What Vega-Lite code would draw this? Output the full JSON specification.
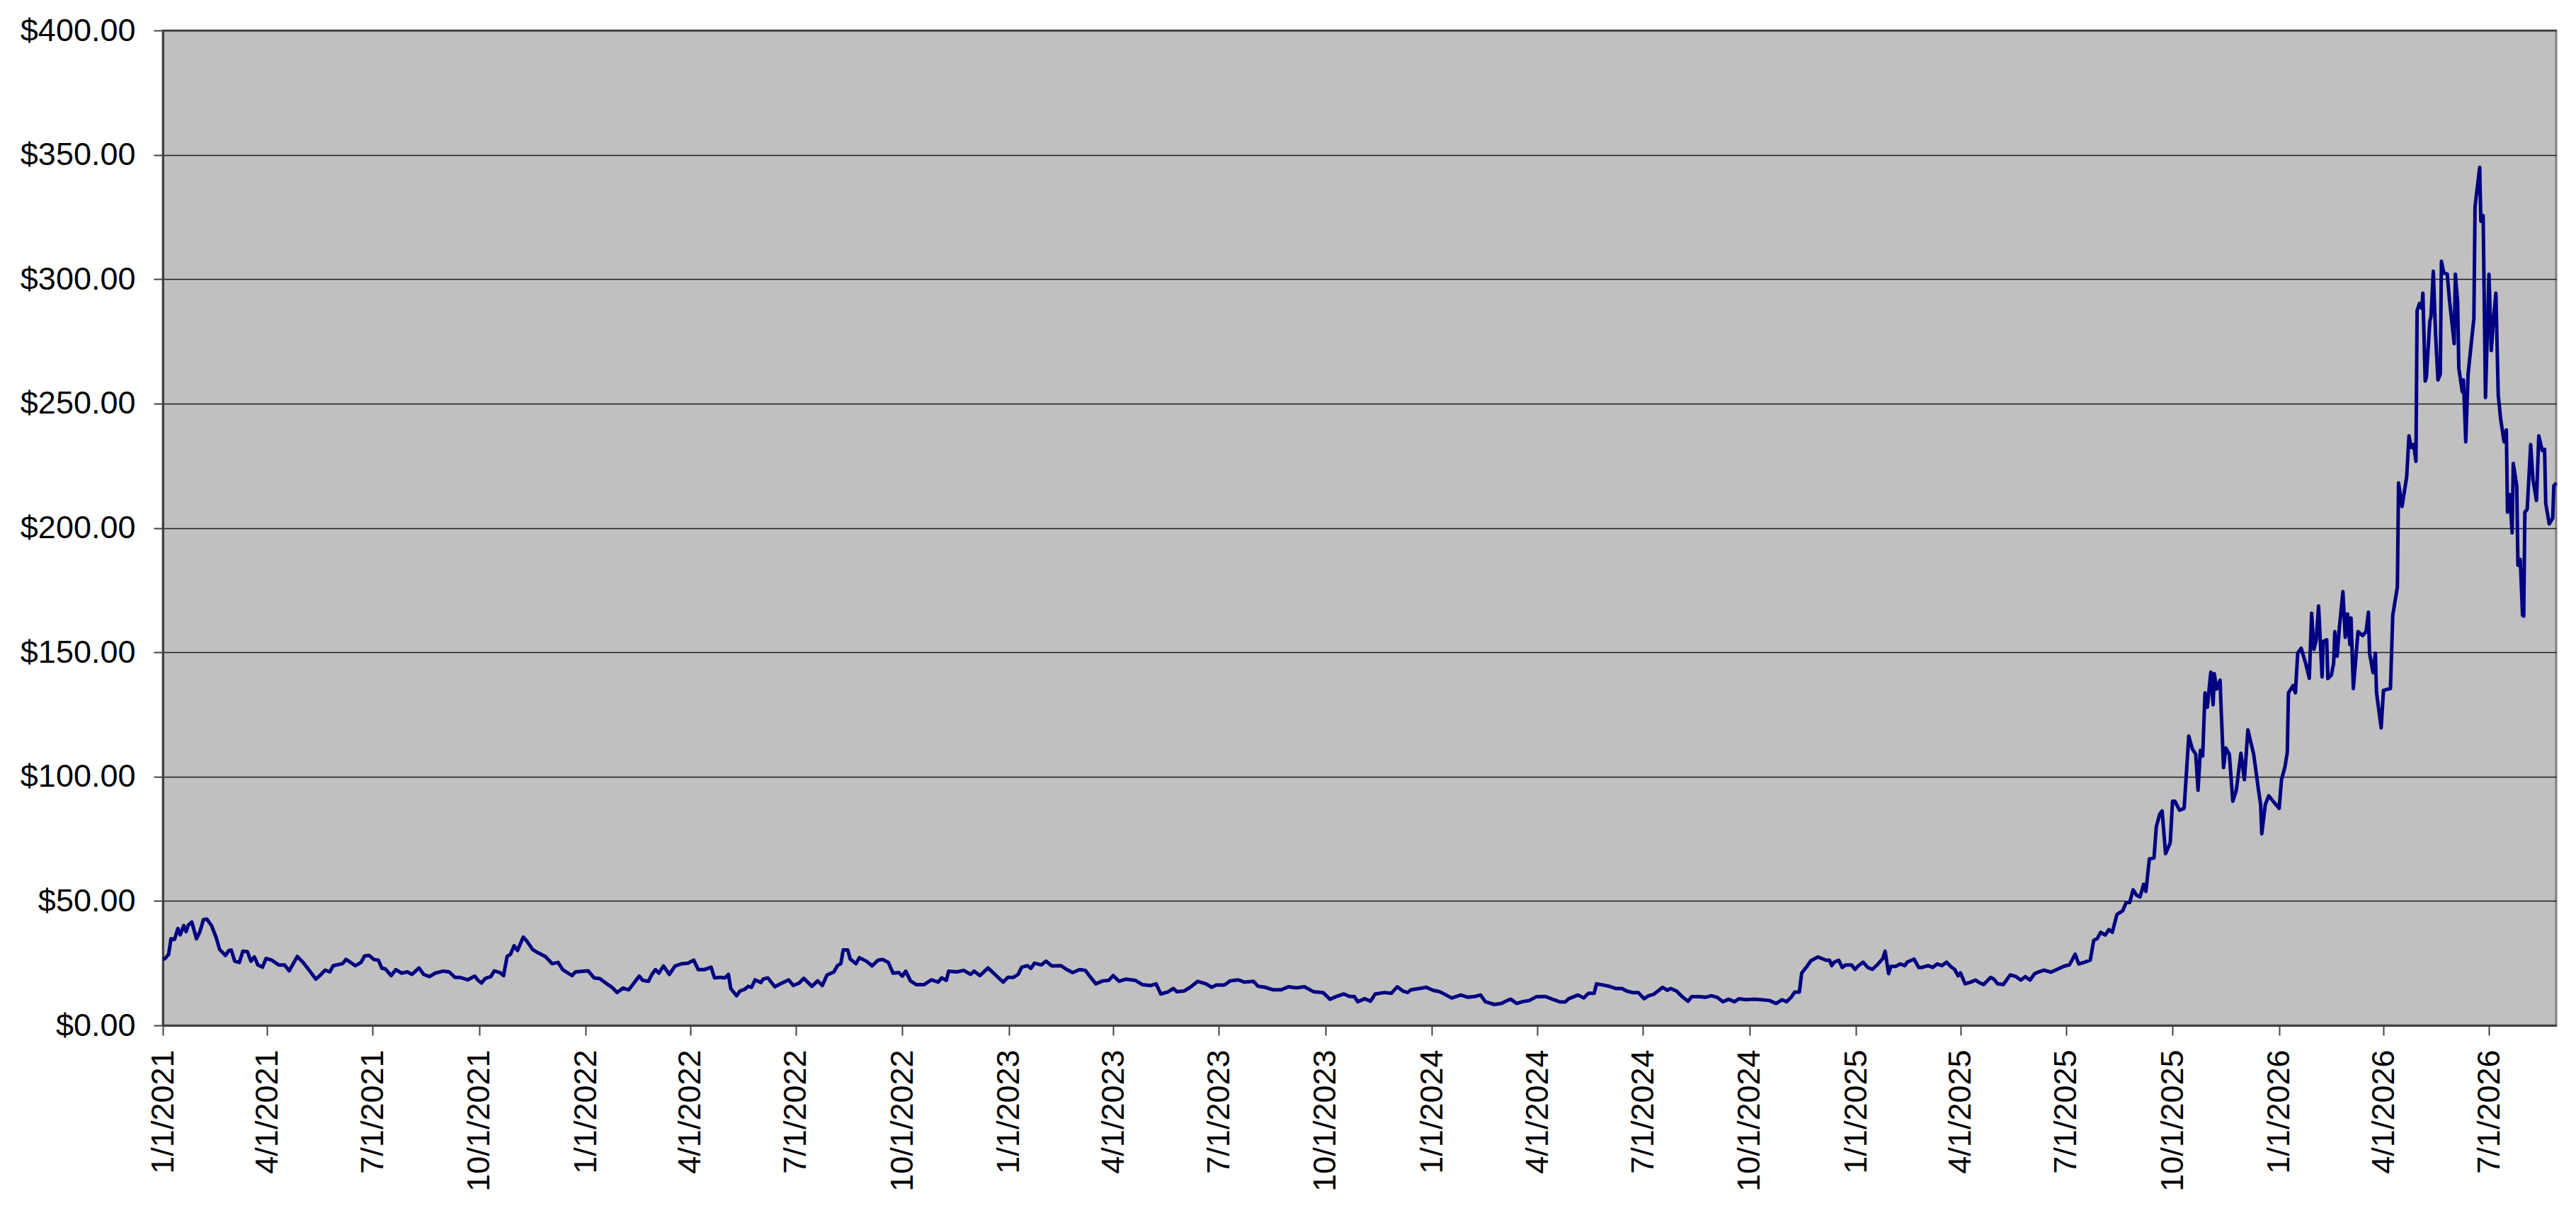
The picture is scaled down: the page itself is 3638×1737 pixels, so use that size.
{
"$schema":"https://vega.github.io/schema/vega-lite/v6.json",
"autosize":"none",
"width":3380,"height":1405,
"padding":{"left":230,"top":43,"right":28,"bottom":289},
"background":"white",
"config":{"font":"Liberation Sans","view":{"fill":"#C0C0C0","stroke":"#808080","strokeWidth":3}},
"data":{"values":[
{"date":"2021-01-01","price":26.5},{"date":"2021-01-03","price":26.9},{"date":"2021-01-06","price":28.6},{"date":"2021-01-08","price":34.8},{"date":"2021-01-11","price":34.5},{"date":"2021-01-14","price":38.9},{"date":"2021-01-16","price":36.4},{"date":"2021-01-19","price":40.1},{"date":"2021-01-21","price":37.7},{"date":"2021-01-23","price":40.3},{"date":"2021-01-26","price":41.5},{"date":"2021-01-30","price":34.8},{"date":"2021-02-02","price":37.7},{"date":"2021-02-05","price":42.5},{"date":"2021-02-08","price":42.7},{"date":"2021-02-12","price":40.1},{"date":"2021-02-16","price":35.3},{"date":"2021-02-19","price":30.5},{"date":"2021-02-24","price":28.1},{"date":"2021-02-27","price":30.1},{"date":"2021-03-01","price":30.3},{"date":"2021-03-04","price":25.8},{"date":"2021-03-08","price":25.3},{"date":"2021-03-11","price":29.8},{"date":"2021-03-15","price":29.6},{"date":"2021-03-18","price":25.8},{"date":"2021-03-21","price":27.5},{"date":"2021-03-24","price":24.3},{"date":"2021-03-28","price":23.4},{"date":"2021-03-31","price":26.9},{"date":"2021-04-05","price":26.2},{"date":"2021-04-11","price":24.3},{"date":"2021-04-16","price":24.3},{"date":"2021-04-20","price":21.9},{"date":"2021-04-27","price":27.7},{"date":"2021-05-02","price":25.3},{"date":"2021-05-06","price":22.9},{"date":"2021-05-13","price":18.6},{"date":"2021-05-16","price":19.8},{"date":"2021-05-21","price":22.2},{"date":"2021-05-25","price":21.5},{"date":"2021-05-28","price":24.0},{"date":"2021-06-05","price":24.8},{"date":"2021-06-08","price":26.5},{"date":"2021-06-13","price":25.0},{"date":"2021-06-16","price":24.0},{"date":"2021-06-21","price":25.3},{"date":"2021-06-24","price":27.9},{"date":"2021-06-28","price":28.1},{"date":"2021-07-02","price":26.5},{"date":"2021-07-06","price":26.2},{"date":"2021-07-09","price":22.9},{"date":"2021-07-12","price":22.7},{"date":"2021-07-17","price":20.0},{"date":"2021-07-21","price":22.4},{"date":"2021-07-26","price":21.0},{"date":"2021-07-31","price":21.5},{"date":"2021-08-04","price":20.5},{"date":"2021-08-10","price":23.1},{"date":"2021-08-14","price":20.5},{"date":"2021-08-19","price":19.6},{"date":"2021-08-24","price":21.0},{"date":"2021-08-31","price":21.8},{"date":"2021-09-05","price":21.5},{"date":"2021-09-10","price":19.3},{"date":"2021-09-14","price":19.3},{"date":"2021-09-21","price":18.3},{"date":"2021-09-27","price":19.8},{"date":"2021-09-30","price":18.1},{"date":"2021-10-03","price":17.0},{"date":"2021-10-06","price":18.8},{"date":"2021-10-11","price":19.6},{"date":"2021-10-14","price":21.9},{"date":"2021-10-19","price":21.2},{"date":"2021-10-22","price":20.0},{"date":"2021-10-25","price":27.7},{"date":"2021-10-28","price":28.6},{"date":"2021-10-31","price":32.0},{"date":"2021-11-03","price":30.1},{"date":"2021-11-08","price":35.5},{"date":"2021-11-11","price":33.9},{"date":"2021-11-16","price":30.5},{"date":"2021-11-21","price":29.1},{"date":"2021-11-27","price":27.7},{"date":"2021-12-03","price":24.8},{"date":"2021-12-08","price":25.3},{"date":"2021-12-12","price":22.4},{"date":"2021-12-20","price":20.0},{"date":"2021-12-23","price":21.5},{"date":"2021-12-30","price":21.8},
{"date":"2022-01-03","price":21.9},{"date":"2022-01-08","price":19.1},{"date":"2022-01-13","price":18.8},{"date":"2022-01-19","price":16.7},{"date":"2022-01-23","price":15.5},{"date":"2022-01-28","price":13.2},{"date":"2022-02-02","price":15.0},{"date":"2022-02-07","price":14.3},{"date":"2022-02-11","price":16.7},{"date":"2022-02-16","price":19.8},{"date":"2022-02-19","price":18.1},{"date":"2022-02-24","price":17.7},{"date":"2022-02-27","price":20.5},{"date":"2022-03-02","price":22.4},{"date":"2022-03-05","price":21.0},{"date":"2022-03-09","price":23.9},{"date":"2022-03-14","price":20.5},{"date":"2022-03-19","price":23.9},{"date":"2022-03-25","price":24.8},{"date":"2022-03-30","price":25.0},{"date":"2022-04-04","price":26.2},{"date":"2022-04-08","price":22.4},{"date":"2022-04-13","price":22.4},{"date":"2022-04-19","price":23.4},{"date":"2022-04-22","price":19.1},{"date":"2022-04-27","price":19.3},{"date":"2022-05-01","price":19.1},{"date":"2022-05-04","price":20.5},{"date":"2022-05-06","price":14.8},{"date":"2022-05-11","price":11.9},{"date":"2022-05-14","price":13.8},{"date":"2022-05-18","price":14.5},{"date":"2022-05-21","price":15.7},{"date":"2022-05-24","price":15.3},{"date":"2022-05-27","price":18.3},{"date":"2022-06-01","price":17.2},{"date":"2022-06-03","price":18.6},{"date":"2022-06-07","price":19.1},{"date":"2022-06-13","price":15.5},{"date":"2022-06-18","price":16.7},{"date":"2022-06-25","price":18.3},{"date":"2022-06-29","price":16.0},{"date":"2022-07-04","price":17.0},{"date":"2022-07-08","price":18.9},{"date":"2022-07-15","price":15.7},{"date":"2022-07-20","price":17.9},{"date":"2022-07-24","price":16.0},{"date":"2022-07-28","price":20.2},{"date":"2022-08-03","price":21.5},{"date":"2022-08-06","price":24.0},{"date":"2022-08-09","price":24.8},{"date":"2022-08-11","price":30.3},{"date":"2022-08-15","price":30.3},{"date":"2022-08-17","price":26.7},{"date":"2022-08-22","price":24.8},{"date":"2022-08-25","price":27.2},{"date":"2022-08-31","price":25.8},{"date":"2022-09-05","price":23.9},{"date":"2022-09-10","price":26.2},{"date":"2022-09-14","price":26.5},{"date":"2022-09-19","price":25.3},{"date":"2022-09-23","price":21.0},{"date":"2022-09-28","price":21.2},{"date":"2022-10-01","price":19.8},{"date":"2022-10-04","price":21.8},{"date":"2022-10-08","price":17.9},{"date":"2022-10-13","price":16.4},{"date":"2022-10-20","price":16.4},{"date":"2022-10-26","price":18.3},{"date":"2022-11-01","price":17.4},{"date":"2022-11-04","price":19.1},{"date":"2022-11-08","price":18.1},{"date":"2022-11-10","price":21.8},{"date":"2022-11-17","price":21.5},{"date":"2022-11-23","price":22.1},{"date":"2022-11-29","price":20.5},{"date":"2022-12-02","price":21.8},{"date":"2022-12-07","price":20.0},{"date":"2022-12-14","price":23.1},{"date":"2022-12-21","price":20.0},{"date":"2022-12-27","price":17.4},{"date":"2022-12-31","price":19.3},
{"date":"2023-01-05","price":19.3},{"date":"2023-01-09","price":20.5},{"date":"2023-01-12","price":23.4},{"date":"2023-01-17","price":24.0},{"date":"2023-01-20","price":22.9},{"date":"2023-01-23","price":25.0},{"date":"2023-01-29","price":24.3},{"date":"2023-02-02","price":25.8},{"date":"2023-02-07","price":23.9},{"date":"2023-02-15","price":24.0},{"date":"2023-02-20","price":22.4},{"date":"2023-02-25","price":21.2},{"date":"2023-03-03","price":22.4},{"date":"2023-03-08","price":22.1},{"date":"2023-03-12","price":19.6},{"date":"2023-03-17","price":16.7},{"date":"2023-03-23","price":17.9},{"date":"2023-03-28","price":18.1},{"date":"2023-04-01","price":20.0},{"date":"2023-04-06","price":17.7},{"date":"2023-04-12","price":18.6},{"date":"2023-04-20","price":18.1},{"date":"2023-04-26","price":16.4},{"date":"2023-05-03","price":16.0},{"date":"2023-05-08","price":16.7},{"date":"2023-05-12","price":12.6},{"date":"2023-05-18","price":13.4},{"date":"2023-05-23","price":14.8},{"date":"2023-05-26","price":13.5},{"date":"2023-06-01","price":13.8},{"date":"2023-06-07","price":15.5},{"date":"2023-06-13","price":17.7},{"date":"2023-06-20","price":16.7},{"date":"2023-06-25","price":15.3},{"date":"2023-06-29","price":16.2},{"date":"2023-07-06","price":16.2},{"date":"2023-07-11","price":17.9},{"date":"2023-07-18","price":18.3},{"date":"2023-07-23","price":17.4},{"date":"2023-07-31","price":17.7},{"date":"2023-08-04","price":15.7},{"date":"2023-08-10","price":15.3},{"date":"2023-08-17","price":14.3},{"date":"2023-08-24","price":14.3},{"date":"2023-08-30","price":15.5},{"date":"2023-09-06","price":15.1},{"date":"2023-09-13","price":15.5},{"date":"2023-09-21","price":13.5},{"date":"2023-09-29","price":13.2},{"date":"2023-10-05","price":10.5},{"date":"2023-10-10","price":11.5},{"date":"2023-10-17","price":12.6},{"date":"2023-10-22","price":11.6},{"date":"2023-10-26","price":11.6},{"date":"2023-10-29","price":9.5},{"date":"2023-11-04","price":10.7},{"date":"2023-11-09","price":9.7},{"date":"2023-11-13","price":12.6},{"date":"2023-11-21","price":13.2},{"date":"2023-11-27","price":12.9},{"date":"2023-12-02","price":15.5},{"date":"2023-12-07","price":13.8},{"date":"2023-12-11","price":13.2},{"date":"2023-12-14","price":14.3},{"date":"2023-12-21","price":14.8},{"date":"2023-12-27","price":15.3},
{"date":"2024-01-02","price":14.1},{"date":"2024-01-08","price":13.5},{"date":"2024-01-18","price":11.0},{"date":"2024-01-26","price":12.2},{"date":"2024-02-01","price":11.3},{"date":"2024-02-07","price":11.6},{"date":"2024-02-12","price":12.2},{"date":"2024-02-16","price":9.5},{"date":"2024-02-24","price":8.4},{"date":"2024-03-01","price":8.8},{"date":"2024-03-06","price":10.0},{"date":"2024-03-09","price":10.5},{"date":"2024-03-14","price":8.8},{"date":"2024-03-19","price":9.5},{"date":"2024-03-25","price":10.0},{"date":"2024-03-31","price":11.5},{"date":"2024-04-08","price":11.6},{"date":"2024-04-14","price":10.5},{"date":"2024-04-20","price":9.5},{"date":"2024-04-25","price":9.4},{"date":"2024-04-28","price":10.7},{"date":"2024-05-06","price":12.2},{"date":"2024-05-11","price":11.0},{"date":"2024-05-15","price":12.9},{"date":"2024-05-20","price":12.9},{"date":"2024-05-22","price":16.7},{"date":"2024-05-28","price":16.2},{"date":"2024-06-02","price":15.7},{"date":"2024-06-08","price":14.8},{"date":"2024-06-13","price":14.8},{"date":"2024-06-17","price":13.8},{"date":"2024-06-22","price":13.2},{"date":"2024-06-27","price":13.2},{"date":"2024-07-02","price":10.7},{"date":"2024-07-06","price":11.9},{"date":"2024-07-10","price":12.4},{"date":"2024-07-14","price":13.8},{"date":"2024-07-18","price":15.3},{"date":"2024-07-22","price":14.1},{"date":"2024-07-25","price":14.8},{"date":"2024-07-30","price":13.8},{"date":"2024-08-04","price":11.5},{"date":"2024-08-09","price":9.7},{"date":"2024-08-12","price":11.5},{"date":"2024-08-18","price":11.5},{"date":"2024-08-24","price":11.3},{"date":"2024-08-29","price":11.9},{"date":"2024-09-03","price":11.3},{"date":"2024-09-08","price":9.5},{"date":"2024-09-13","price":10.5},{"date":"2024-09-18","price":9.5},{"date":"2024-09-22","price":10.7},{"date":"2024-09-28","price":10.3},{"date":"2024-10-04","price":10.5},{"date":"2024-10-11","price":10.3},{"date":"2024-10-18","price":10.0},{"date":"2024-10-24","price":8.8},{"date":"2024-10-29","price":10.3},{"date":"2024-11-02","price":9.5},{"date":"2024-11-06","price":11.3},{"date":"2024-11-09","price":13.4},{"date":"2024-11-13","price":13.4},{"date":"2024-11-15","price":21.0},{"date":"2024-11-20","price":24.0},{"date":"2024-11-23","price":26.0},{"date":"2024-11-29","price":27.5},{"date":"2024-12-06","price":26.2},{"date":"2024-12-09","price":26.2},{"date":"2024-12-11","price":24.0},{"date":"2024-12-13","price":25.4},{"date":"2024-12-17","price":26.2},{"date":"2024-12-20","price":23.3},{"date":"2024-12-23","price":24.3},{"date":"2024-12-28","price":24.3},{"date":"2024-12-31","price":22.5},
{"date":"2025-01-03","price":24.0},{"date":"2025-01-07","price":25.4},{"date":"2025-01-11","price":23.3},{"date":"2025-01-15","price":22.5},{"date":"2025-01-20","price":24.7},{"date":"2025-01-24","price":26.9},{"date":"2025-01-26","price":29.8},{"date":"2025-01-29","price":20.8},{"date":"2025-01-31","price":23.7},{"date":"2025-02-04","price":23.7},{"date":"2025-02-08","price":24.7},{"date":"2025-02-12","price":24.0},{"date":"2025-02-14","price":25.4},{"date":"2025-02-20","price":26.6},{"date":"2025-02-24","price":23.3},{"date":"2025-02-27","price":23.3},{"date":"2025-03-04","price":24.0},{"date":"2025-03-08","price":23.3},{"date":"2025-03-12","price":24.7},{"date":"2025-03-16","price":24.0},{"date":"2025-03-20","price":25.4},{"date":"2025-03-24","price":23.5},{"date":"2025-03-27","price":22.5},{"date":"2025-03-30","price":19.9},{"date":"2025-04-01","price":21.1},{"date":"2025-04-05","price":16.7},{"date":"2025-04-10","price":17.4},{"date":"2025-04-14","price":18.2},{"date":"2025-04-18","price":17.0},{"date":"2025-04-21","price":16.4},{"date":"2025-04-27","price":19.3},{"date":"2025-04-30","price":18.5},{"date":"2025-05-03","price":16.7},{"date":"2025-05-08","price":16.4},{"date":"2025-05-14","price":20.3},{"date":"2025-05-19","price":19.6},{"date":"2025-05-23","price":18.2},{"date":"2025-05-27","price":19.6},{"date":"2025-05-31","price":18.2},{"date":"2025-06-04","price":20.8},{"date":"2025-06-07","price":21.4},{"date":"2025-06-12","price":22.2},{"date":"2025-06-18","price":21.4},{"date":"2025-06-22","price":22.2},{"date":"2025-06-27","price":23.3},{"date":"2025-07-01","price":24.0},{"date":"2025-07-04","price":24.3},{"date":"2025-07-09","price":28.6},{"date":"2025-07-12","price":24.7},{"date":"2025-07-17","price":25.4},{"date":"2025-07-22","price":26.2},{"date":"2025-07-25","price":34.2},{"date":"2025-07-28","price":34.9},{"date":"2025-07-31","price":37.4},{"date":"2025-08-04","price":36.3},{"date":"2025-08-07","price":38.5},{"date":"2025-08-10","price":37.4},{"date":"2025-08-14","price":44.6},{"date":"2025-08-19","price":46.1},{"date":"2025-08-22","price":49.4},{"date":"2025-08-25","price":49.4},{"date":"2025-08-28","price":54.5},{"date":"2025-08-31","price":52.3},{"date":"2025-09-03","price":51.6},{"date":"2025-09-06","price":56.7},{"date":"2025-09-08","price":53.8},{"date":"2025-09-11","price":66.9},{"date":"2025-09-15","price":67.3},{"date":"2025-09-17","price":79.9},{"date":"2025-09-20","price":85.0},{"date":"2025-09-22","price":86.2},{"date":"2025-09-25","price":69.0},{"date":"2025-09-29","price":73.4},{"date":"2025-10-01","price":90.1},{"date":"2025-10-03","price":90.1},{"date":"2025-10-07","price":86.5},{"date":"2025-10-11","price":87.2},{"date":"2025-10-15","price":116.3},{"date":"2025-10-18","price":111.2},{"date":"2025-10-21","price":109.0},{"date":"2025-10-23","price":94.5},{"date":"2025-10-25","price":110.5},{"date":"2025-10-27","price":108.3},{"date":"2025-10-29","price":133.7},{"date":"2025-10-31","price":127.9},{"date":"2025-11-03","price":142.0},{"date":"2025-11-05","price":128.9},{"date":"2025-11-06","price":141.4},{"date":"2025-11-08","price":135.2},{"date":"2025-11-11","price":138.8},{"date":"2025-11-12","price":126.5},{"date":"2025-11-14","price":103.6},{"date":"2025-11-16","price":111.5},{"date":"2025-11-19","price":109.0},{"date":"2025-11-22","price":90.1},{"date":"2025-11-25","price":94.5},{"date":"2025-11-29","price":109.4},{"date":"2025-12-02","price":98.8},{"date":"2025-12-05","price":118.8},{"date":"2025-12-10","price":109.0},{"date":"2025-12-14","price":95.2},{"date":"2025-12-16","price":88.7},{"date":"2025-12-17","price":77.0},{"date":"2025-12-20","price":88.7},{"date":"2025-12-23","price":92.3},{"date":"2025-12-28","price":89.4},
{"date":"2026-01-01","price":87.2},{"date":"2026-01-03","price":98.8},{"date":"2026-01-06","price":103.9},{"date":"2026-01-08","price":109.7},{"date":"2026-01-09","price":133.7},{"date":"2026-01-13","price":136.6},{"date":"2026-01-15","price":133.7},{"date":"2026-01-17","price":149.7},{"date":"2026-01-20","price":151.6},{"date":"2026-01-24","price":145.3},{"date":"2026-01-27","price":139.5},{"date":"2026-01-29","price":165.7},{"date":"2026-01-31","price":151.2},{"date":"2026-02-02","price":155.1},{"date":"2026-02-04","price":168.6},{"date":"2026-02-07","price":140.1},{"date":"2026-02-08","price":154.3},{"date":"2026-02-11","price":155.0},{"date":"2026-02-12","price":139.4},{"date":"2026-02-15","price":140.8},{"date":"2026-02-17","price":145.6},{"date":"2026-02-18","price":158.3},{"date":"2026-02-20","price":148.4},{"date":"2026-02-22","price":160.2},{"date":"2026-02-25","price":174.4},{"date":"2026-02-27","price":156.0},{"date":"2026-03-01","price":165.4},{"date":"2026-03-03","price":153.1},{"date":"2026-03-04","price":163.8},{"date":"2026-03-06","price":135.4},{"date":"2026-03-10","price":158.3},{"date":"2026-03-14","price":156.7},{"date":"2026-03-17","price":158.3},{"date":"2026-03-19","price":166.1},{"date":"2026-03-20","price":149.6},{"date":"2026-03-23","price":141.8},{"date":"2026-03-25","price":149.6},{"date":"2026-03-26","price":133.7},{"date":"2026-03-30","price":119.6},{"date":"2026-04-01","price":134.7},{"date":"2026-04-07","price":135.4},{"date":"2026-04-09","price":164.9},{"date":"2026-04-13","price":176.3},{"date":"2026-04-14","price":218.1},{"date":"2026-04-17","price":208.6},{"date":"2026-04-21","price":220.5},{"date":"2026-04-23","price":237.0},{"date":"2026-04-25","price":232.3},{"date":"2026-04-27","price":233.5},{"date":"2026-04-29","price":226.8},{"date":"2026-04-30","price":287.3},{"date":"2026-05-02","price":290.2},{"date":"2026-05-04","price":288.3},{"date":"2026-05-05","price":294.4},{"date":"2026-05-07","price":259.0},{"date":"2026-05-08","price":260.6},{"date":"2026-05-11","price":283.1},{"date":"2026-05-12","price":285.0},{"date":"2026-05-14","price":303.2},{"date":"2026-05-16","price":277.2},{"date":"2026-05-18","price":259.5},{"date":"2026-05-20","price":261.8},{"date":"2026-05-21","price":307.2},{"date":"2026-05-23","price":302.5},{"date":"2026-05-26","price":302.0},{"date":"2026-05-28","price":291.4},{"date":"2026-06-01","price":274.1},{"date":"2026-06-02","price":302.0},{"date":"2026-06-04","price":290.8},{"date":"2026-06-05","price":264.2},{"date":"2026-06-08","price":254.7},{"date":"2026-06-09","price":259.5},{"date":"2026-06-11","price":234.6},{"date":"2026-06-13","price":261.8},{"date":"2026-06-18","price":284.3},{"date":"2026-06-19","price":329.2},{"date":"2026-06-23","price":345.0},{"date":"2026-06-24","price":323.3},{"date":"2026-06-26","price":325.6},{"date":"2026-06-28","price":252.4},{"date":"2026-07-01","price":302.0},{"date":"2026-07-03","price":271.3},{"date":"2026-07-05","price":284.3},{"date":"2026-07-07","price":294.4},{"date":"2026-07-09","price":253.5},{"date":"2026-07-11","price":244.1},{"date":"2026-07-14","price":234.6},{"date":"2026-07-16","price":239.4},{"date":"2026-07-17","price":206.3},{"date":"2026-07-19","price":213.4},{"date":"2026-07-21","price":198.0},{"date":"2026-07-22","price":225.9},{"date":"2026-07-25","price":216.9},{"date":"2026-07-26","price":185.0},{"date":"2026-07-28","price":187.4},{"date":"2026-07-30","price":164.9},{"date":"2026-07-31","price":164.5},{"date":"2026-08-01","price":206.3},{"date":"2026-08-03","price":207.5},{"date":"2026-08-06","price":233.5},{"date":"2026-08-08","price":219.3},{"date":"2026-08-11","price":211.0},{"date":"2026-08-13","price":237.0},{"date":"2026-08-16","price":231.1},{"date":"2026-08-18","price":231.6},{"date":"2026-08-19","price":209.8},{"date":"2026-08-22","price":201.6},{"date":"2026-08-25","price":203.9},{"date":"2026-08-26","price":216.9},{"date":"2026-08-28","price":218.1}
]},
"mark":{"type":"line","color":"#000080","strokeWidth":5,"strokeJoin":"round"},
"encoding":{
"x":{"field":"date","type":"temporal","title":null,
"scale":{"type":"utc","domain":[{"year":2021,"month":1,"date":1,"utc":true},{"year":2026,"month":8,"date":28,"utc":true}],"nice":false},
"axis":{"tickCount":{"interval":"month","step":3},"format":"%-m/%-d/%Y","labelAngle":-90,"labelAlign":"right","labelBaseline":"middle","labelFontSize":45,"labelColor":"#000000","labelPadding":20,"labelFlush":false,"labelOverlap":false,"labelLimit":0,"tickSize":14,"tickWidth":2,"tickColor":"#404040","domainColor":"#404040","domainWidth":3,"grid":false}},
"y":{"field":"price","type":"quantitative","title":null,
"scale":{"domain":[0,400],"nice":false},
"axis":{"values":[0,50,100,150,200,250,300,350,400],"format":"$.2f","labelFontSize":45,"labelColor":"#000000","labelPadding":26,"labelFlush":false,"labelLimit":0,"tickSize":13,"tickWidth":2,"tickColor":"#404040","domainColor":"#404040","domainWidth":3,"grid":true,"gridColor":"#000000","gridWidth":1.5,"gridOpacity":0.85}}
}
}
